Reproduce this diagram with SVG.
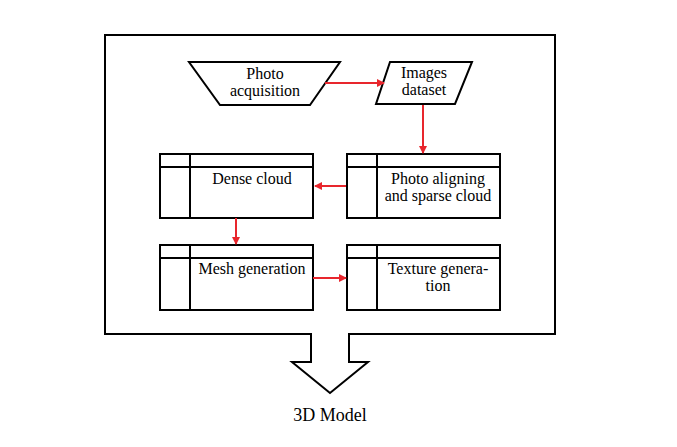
<svg xmlns="http://www.w3.org/2000/svg" width="677" height="447" viewBox="0 0 677 447">
<style>
.s{fill:#fff;stroke:#000;stroke-width:2}
.l{stroke:#000;stroke-width:2;fill:none}
.t{font-family:"Liberation Serif",serif;font-size:16px;text-anchor:middle;fill:#000}
.c{stroke:#e8262d;stroke-width:2;fill:none;marker-end:url(#a)}
</style>
<defs><marker id="a" markerWidth="8" markerHeight="8" refX="7" refY="4" orient="auto" markerUnits="userSpaceOnUse"><path d="M0,0L8,4L0,8z" fill="#e8262d"/></marker></defs>
<rect width="677" height="447" fill="#fff"/>
<g id="frame"><path class="s" d="M105,35H555V334H349V362H368L330,393L292,362H311V334H105Z"/></g>
<g id="acq"><path class="s" d="M189,62H340L310,105H220Z"/><text class="t" x="265" y="79">Photo</text><text class="t" x="265" y="96">acquisition</text></g>
<g id="images"><path class="s" d="M390,62H472L455,104H376Z"/><text class="t" x="424" y="78">Images</text><text class="t" x="424" y="95">dataset</text></g>
<g id="dense"><rect class="s" x="160" y="154" width="153" height="64"/><path class="l" d="M160,167H313M190,154V218"/><text class="t" x="252" y="184">Dense cloud</text></g>
<g id="align"><rect class="s" x="347" y="154" width="153" height="64"/><path class="l" d="M347,167H500M377,154V218"/><text class="t" x="438" y="184">Photo aligning</text><text class="t" x="438" y="201">and sparse cloud</text></g>
<g id="mesh"><rect class="s" x="160" y="245" width="153" height="65"/><path class="l" d="M160,258H313M190,245V310"/><text class="t" x="252" y="274">Mesh generation</text></g>
<g id="texture"><rect class="s" x="347" y="245" width="153" height="65"/><path class="l" d="M347,258H500M377,245V310"/><text class="t" x="438" y="274">Texture genera-</text><text class="t" x="438" y="291">tion</text></g>
<g id="connectors">
<path class="c" d="M325,83H384"/>
<path class="c" d="M423,105V153"/>
<path class="c" d="M346,186H315"/>
<path class="c" d="M236,218V244"/>
<path class="c" d="M313,278H346"/>
</g>
<text class="t" x="330" y="421" style="font-size:18px">3D Model</text>
</svg>
